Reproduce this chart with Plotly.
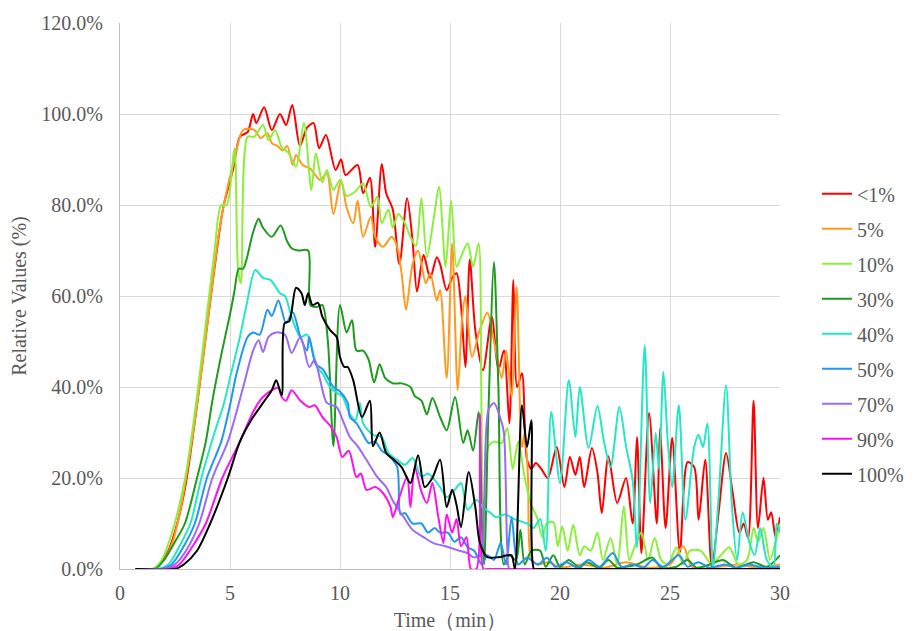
import plotly.graph_objects as go

# ---- series data: time (min) and relative value (%) ----
t_lt1 = [0.7, 1.5, 1.8, 2.2, 2.6, 3.0, 3.5, 4.0, 4.4, 4.7, 5.15, 5.45, 5.8, 6.05, 6.2, 6.55, 6.9, 7.27, 7.55, 7.83,
         8.18, 8.5, 8.8, 9.05, 9.36, 9.8, 10.05, 10.25, 10.8, 11.05, 11.36, 11.6, 11.9, 12.1, 12.4, 12.7, 13.05,
         13.3, 13.5, 13.8, 14.1, 14.4, 14.55, 14.85, 15.1, 15.3, 15.5, 15.7, 15.9, 16.15, 16.5, 16.9, 17.2,
         17.45, 17.7, 17.88, 18.05, 18.27, 18.5, 18.7, 18.9, 19.15, 19.45, 19.85, 20.2, 20.45, 20.7, 20.9,
         21.1, 21.45, 21.7, 21.9, 22.2, 22.6, 23.0, 23.3, 23.5, 23.7, 24.05, 24.4, 24.55, 24.8, 25.1, 25.45,
         25.8, 26.1, 26.3, 26.6, 26.9, 27.2, 27.55, 27.85, 28.15, 28.35, 28.55, 28.8, 29.0, 29.25, 29.45,
         29.6, 29.8, 30.0]
v_lt1 = [0, 0, 1, 4, 10, 19, 36, 55, 70, 79.6, 88, 95, 96, 100, 98, 101.5, 96.5, 100, 97.6, 102,
         93, 97, 98, 92.5, 95.4, 87.7, 90, 86.6, 88.8, 82.6, 86, 70.8, 89, 82.6, 79, 67, 81.5,
         72, 61, 69, 64, 68.5, 67, 61.3, 64, 65, 58, 44.4, 68, 52.5, 43.7, 55.4, 43.7,
         48, 32, 63.5, 40, 43, 24, 22, 23.3, 22, 20, 26.8, 18, 24.6, 20.7, 24.6,
         18, 26.6, 21.3, 12.3, 24.8, 14.5, 20, 10, 29, 3.5, 34.3, 10, 31, 9, 28.8, 3.7,
         23.5, 22.4, 10.8, 24, 0.4, 12, 25.5, 16.7, 8, 10, 6.8, 37, 9, 20, 10.8,
         12.5, 7, 11.4]

t_5 = [0.7, 1.5, 2.0, 2.4, 2.7, 3.0, 3.5, 4.0, 4.5, 4.8, 5.15, 5.6, 6.1, 6.4, 6.7, 6.9, 7.15, 7.4, 7.6, 7.85,
       8.0, 8.3, 8.65, 9.1, 9.4, 9.7, 10.05, 10.3, 10.6, 10.8, 11.05, 11.4, 11.6, 11.95, 12.35, 12.6, 12.8,
       13.0, 13.3, 13.55, 13.9, 14.1, 14.4, 14.55, 14.85, 15.1, 15.35, 15.55, 15.7, 16.0, 16.35, 16.7, 17.0,
       17.35, 17.55, 17.8, 18.03, 18.27, 18.4, 18.55, 18.7, 19.0, 19.5, 20.0, 21.0, 22.0, 23.0, 24.0, 25.0,
       25.6, 26.0, 27.0, 28.0, 29.0, 30.0]
v_5 = [0, 0, 2, 6, 12, 20, 36, 55, 74, 82, 89, 96.5, 96.5, 94.7, 95.8, 93.6, 93, 92, 93, 88.8,
       91, 88.8, 88, 85.5, 87, 78, 85.5, 79.5, 76, 81, 73, 77.4, 73, 70.8, 73, 70.8, 65,
       57, 67, 70, 62.8, 65, 59, 61.3, 42, 71.6, 39.3, 55, 60, 46.6, 52.5, 56.3, 50,
       42, 48, 37.8, 62, 26.8, 30, 19.6, 2, 1, 1.5, 0.3, 1, 0.3, 1.5, 0.3, 1,
       5, 0.5, 0.3, 1, 0.3, 1]

t_10 = [0.7, 1.5, 1.9, 2.3, 2.7, 3.0, 3.5, 4.0, 4.3, 4.6, 4.85, 5.2, 5.37, 5.5, 5.8, 6.1, 6.5, 6.75, 7.05,
        7.35, 7.65, 8.0, 8.36, 8.7, 8.9, 9.2, 9.4, 9.7, 10.0, 10.3, 10.7, 11.05, 11.4, 11.7, 11.9, 12.2,
        12.4, 12.65, 12.95, 13.2, 13.45, 13.7, 13.95, 14.25, 14.5, 14.8, 15.05, 15.3, 15.5, 15.8, 16.05,
        16.3, 16.42, 16.5, 16.62, 16.75, 17.0, 17.35, 17.6, 17.85, 18.1, 18.4, 18.7, 18.95, 19.2, 19.4,
        19.7, 19.9, 20.1, 20.35, 20.6, 20.9, 21.1, 21.4, 21.7, 21.95, 22.3, 22.6, 22.9, 23.15, 23.4, 23.7,
        24.0, 24.3, 24.6, 24.9, 25.3, 25.6, 25.9, 26.4, 26.9, 27.3, 27.7, 28.1, 28.5, 28.8, 29.0, 29.25,
        29.55, 29.8, 30.0]
v_10 = [0, 0, 2, 7, 14, 21, 38, 58, 70, 80, 80, 92.5, 65.7, 62.8, 95, 95, 97.6, 94.3, 96.5,
        92.7, 91.5, 88.4, 98, 83.3, 91.4, 85, 87.7, 83.3, 85.5, 82, 83, 84.8, 79.5, 81.8, 76, 79,
        75, 78, 76, 73, 71, 81.5, 68.5, 76.7, 84, 66.4, 81, 66.4, 68.6, 71.6, 66.4,
        71.6, 40, 1, 20, 27, 28, 27.7, 31, 22, 28, 20, 14, 11.4, 7, 10,
        10.3, 5, 9.4, 4, 9.7, 3, 5, 4, 8, 2, 6.8, 1, 13.8, 2, 5, 8,
        2, 6.8, 2, 1, 4.8, 1, 4, 4, 1, 3, 4.8, 1, 2, 9, 6, 9,
        2, 6, 10]

t_30 = [0.7, 1.6, 2.0, 2.5, 2.95, 3.5, 3.9, 4.2, 4.6, 5.0, 5.2, 5.4, 5.6, 5.75, 6.05, 6.3, 6.5, 6.9, 7.3, 7.6,
        7.8, 8.1, 8.55, 8.65, 8.95, 9.2, 9.45, 9.7, 10.0, 10.3, 10.55, 10.75, 11.05, 11.3, 11.55, 11.8, 12.05,
        12.4, 12.8, 13.2, 13.4, 13.7, 13.95, 14.2, 14.55, 14.85, 15.23, 15.6, 15.8, 16.05, 16.3, 16.45,
        16.55, 16.75, 17.0, 17.2, 17.45, 17.7, 18.0, 18.2, 18.4, 18.7, 19.1, 19.35, 19.7, 20.0, 20.4, 20.9,
        21.2, 21.8, 22.2, 22.6, 23.0, 23.5, 24.2, 24.6, 25.3, 25.8, 26.2, 26.8, 27.4, 28.0, 28.8, 29.4, 30.0]
v_30 = [0, 0, 2, 6, 10, 20, 28, 37, 47, 56, 61, 66, 66, 68, 74, 77, 75, 73, 75.5, 72,
        70.5, 70, 70, 58, 57.6, 58, 50, 27, 58, 52, 54.7, 48, 48, 46, 41, 45, 42,
        40.8, 40.8, 40, 38, 37, 34, 37.6, 33.4, 30.5, 37.8, 27.7, 30.5, 26, 34.5, 10,
        1, 35, 67.5, 40, 1, 3, 2, 8.6, 1, 4, 4, 0.5, 3, 0.5, 2, 0.3,
        1.5, 0.3, 2, 0.3, 0.5, 1, 2.5, 0.3, 0.5, 2, 0.3, 1, 2, 0.3, 1.5, 0.5, 3]

t_40 = [0.7, 1.7, 2.2, 2.7, 3.2, 3.7, 4.3, 4.7, 5.05, 5.45, 5.75, 6.15, 6.5, 6.85, 7.27, 7.5, 7.8, 8.2, 8.5,
        8.95, 9.2, 9.55, 9.85, 10.1, 10.45, 10.7, 10.9, 11.05, 11.5, 11.9, 12.2, 12.6, 12.95, 13.3, 13.7,
        14.0, 14.55, 14.85, 15.15, 15.5, 15.8, 16.2, 16.5, 16.8, 17.1, 17.5, 17.9, 18.2, 18.5, 18.8, 19.1,
        19.35, 19.6, 20.0, 20.4, 20.7, 20.9, 21.3, 21.7, 22.0, 22.3, 22.7, 23.0, 23.3, 23.5, 23.85, 24.1,
        24.35, 24.5, 24.7, 24.9, 25.1, 25.4, 25.7, 26.1, 26.3, 26.5, 26.7, 26.95, 27.2, 27.55, 27.8, 28.05,
        28.3, 28.6, 28.85, 29.1, 29.4, 29.7, 29.85, 30.0]
v_40 = [0, 0, 1, 5, 10, 20, 30, 36, 43, 51, 58, 65.7, 64, 63.5, 60.6, 60, 55.4, 51, 51.5,
        44.4, 43, 40, 38.7, 38, 34, 32.7, 36.5, 32, 29.5, 29, 25.5, 24, 22.9, 24.4, 20.2,
        21, 18, 15.8, 17, 18.9, 13, 15.2, 13.5, 12.5, 11.4, 12, 11, 10.5, 10, 9, 11,
        4, 34.5, 18.9, 41.5, 29, 40, 26.6, 35.8, 28, 22.4, 35.6, 27, 19.6, 4.8, 49.2, 14.5,
        29.9, 22, 43.3, 28, 18, 36, 10.8, 26.8, 29.5, 26.8, 32, 0.4, 15, 40.4, 15, 2,
        12.5, 6, 3, 9, 2, 0.4, 10, 8]

t_50 = [0.7, 1.9, 2.35, 2.9, 3.4, 3.95, 4.6, 5.0, 5.3, 5.8, 6.05, 6.35, 6.7, 6.9, 7.2, 7.55, 7.85, 8.2, 8.5,
        8.6, 8.9, 9.2, 9.7, 10.0, 10.35, 10.45, 10.75, 11.0, 11.3, 11.6, 11.9, 12.2, 12.6, 12.75, 12.95,
        13.3, 13.7, 14.0, 14.3, 14.55, 14.9, 15.2, 15.5, 15.8, 16.1, 16.45, 16.7, 17.0, 17.3, 17.55, 17.8,
        18.1, 18.5, 19.0, 19.4, 19.8, 20.3, 20.8, 21.3, 21.8, 22.4, 22.8, 23.3, 23.8, 24.2, 24.7, 25.4,
        25.8, 26.3, 26.8, 27.5, 28.0, 28.6, 29.2, 30.0]
v_50 = [0, 0, 1, 5, 10, 20, 28, 36, 43, 51, 52, 51.5, 57, 55.6, 59, 54, 56.5, 51, 48,
        51, 45, 44, 40, 39, 36.5, 33.4, 32, 30, 27.7, 28, 26, 25, 22.4, 12, 12.3,
        10, 10, 8, 9, 8, 8, 6, 7, 4.8, 4, 1, 3, 2, 5.7, 1, 11.4,
        1, 2.5, 1, 2.5, 0.5, 1.5, 0.3, 2, 0.5, 3.5, 0.5, 1, 0.3, 2, 0.5, 3,
        0.5, 1.5, 0.3, 1, 0.3, 1, 0.3, 0.5]

t_70 = [0.7, 2.0, 2.5, 3.0, 3.6, 4.2, 4.9, 5.6, 6.05, 6.3, 6.5, 6.75, 7.1, 7.5, 7.8, 8.2, 8.6, 8.85, 9.1,
        9.4, 9.85, 10.1, 10.45, 10.8, 11.2, 11.7, 12.1, 12.4, 12.9, 13.3, 13.8, 14.25, 14.8, 15.3, 15.8,
        16.05, 16.4, 16.55, 16.75, 17.0, 17.3, 17.45, 17.6, 17.7, 18.0, 30.0]
v_70 = [0, 0, 1, 4, 10, 20, 28, 40, 48, 50.3, 47.7, 51, 52, 51.5, 47.5, 51, 44.4, 46, 41.5,
        36.5, 35.6, 33, 29, 27, 24, 20.2, 18, 15, 11.4, 8.6, 7, 5.7, 5, 4.2, 3.5,
        2.6, 3, 15, 35, 36.5, 33, 30, 5, 0, 0, 0]

t_90 = [0.7, 2.2, 2.7, 3.3, 3.9, 4.65, 5.45, 6.1, 6.5, 6.9, 7.2, 7.35, 7.55, 7.8, 8.2, 8.6, 8.85, 9.2, 9.55,
        9.85, 10.1, 10.4, 10.75, 10.95, 11.2, 11.6, 11.95, 12.3, 12.4, 12.7, 13.05, 13.2, 13.4, 13.7, 13.95,
        14.2, 14.45, 14.7, 14.85, 15.1, 15.3, 15.5, 15.75, 15.95, 16.2, 16.36, 16.52, 16.7, 30.0]
v_90 = [0, 0, 1, 5, 10, 20, 28, 35, 37.8, 39.3, 39.8, 37.8, 37, 39.3, 37, 35.6, 36, 33.4, 31.5,
        29, 24.6, 26, 20.2, 21, 17.4, 18, 16.7, 13.6, 11.4, 15.8, 20.2, 13.6, 22.4, 17, 14.5,
        18.9, 12, 5.7, 12, 8, 11, 5, 7, 0, 0, 34, 0, 0, 0]

t_100 = [0.7, 2.5, 2.9, 3.5, 4.1, 4.9, 5.45, 6.0, 6.5, 6.9, 7.1, 7.35, 7.48, 7.7, 8.0, 8.25, 8.4, 8.55, 8.75,
         9.0, 9.2, 9.55, 9.85, 10.0, 10.2, 10.35, 10.6, 11.0, 11.36, 11.5, 11.8, 12.1, 12.45, 12.8, 13.2,
         13.55, 13.85, 14.2, 14.55, 14.85, 15.1, 15.3, 15.5, 15.85, 16.15, 16.36, 16.7, 17.2, 17.6, 17.8,
         17.95, 18.27, 18.5, 18.7, 18.82, 19.0, 30.0]
v_100 = [0, 0, 1, 4, 10, 20, 28, 33, 36.5, 39.3, 41.5, 38.2, 54, 54.5, 61.8, 60.6, 58, 60.6, 58,
         58.5, 55.4, 52.5, 51, 46.6, 44.4, 44.4, 41.5, 33.4, 37, 27, 30, 25.5, 24, 22.4, 18.9,
         25, 18, 20, 24, 13.6, 17.4, 14, 9.2, 21.3, 13.6, 5.7, 2.6, 2.6, 3, 3,
         0, 36, 26.8, 32.7, 0, 0, 0]

series = [
    ("<1%", t_lt1, v_lt1, "#FF0000"),
    ("5%", t_5, v_5, "#FF9A1E"),
    ("10%", t_10, v_10, "#8CF03A"),
    ("30%", t_30, v_30, "#1E9B1E"),
    ("40%", t_40, v_40, "#22E8C4"),
    ("50%", t_50, v_50, "#2196F3"),
    ("70%", t_70, v_70, "#9B6BF5"),
    ("90%", t_90, v_90, "#FF10F0"),
    ("100%", t_100, v_100, "#000000"),
]

FONT = "Liberation Serif, Times New Roman, serif"
GREY = "#595959"
FS = 20

fig = go.Figure()
for name, t, v, color in series:
    fig.add_trace(go.Scatter(
        x=t, y=v, name=name, mode="lines",
        line=dict(color=color, width=2, shape="spline", smoothing=0.8),
        legendgroup=name,
    ))

fig.update_layout(
    width=915, height=631,
    margin=dict(l=120, r=135, t=23, b=62, autoexpand=False),
    paper_bgcolor="white", plot_bgcolor="white",
    font=dict(family=FONT, size=FS, color=GREY),
    showlegend=True,
    legend=dict(x=1.056, y=0.723, xanchor="left", yanchor="top",
                font=dict(family=FONT, size=FS, color=GREY),
                tracegroupgap=6, bgcolor="rgba(0,0,0,0)"),
    xaxis=dict(range=[0, 30], dtick=5, tick0=0, showgrid=True, gridcolor="#D9D9D9", gridwidth=1,
               zeroline=False, showline=True, linecolor="#BFBFBF", linewidth=1, ticks="",
               automargin=False,
               tickfont=dict(family=FONT, size=FS, color=GREY), ticklabelstandoff=6,
               title=dict(text="Time（min）", font=dict(family=FONT, size=FS, color=GREY), standoff=9)),
    yaxis=dict(range=[0, 120], dtick=20, tick0=0, showgrid=True, gridcolor="#D9D9D9", gridwidth=1,
               zeroline=False, showline=True, linecolor="#BFBFBF", linewidth=1, ticks="",
               automargin=False,
               tickformat=".1f", ticksuffix="%",
               tickfont=dict(family=FONT, size=FS, color=GREY), ticklabelstandoff=12,
               title=dict(text="Relative Values (%)", font=dict(family=FONT, size=FS, color=GREY), standoff=9)),
)

fig.write_html("out.html")
